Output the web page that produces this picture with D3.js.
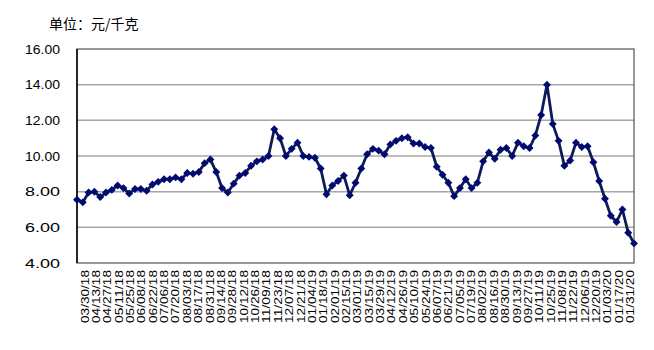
<!DOCTYPE html>
<html>
<head>
<meta charset="utf-8">
<script src="https://cdn.jsdelivr.net/npm/d3@7"></script>
<style>
  body { margin: 0; background: white; }
</style>
</head>
<body>
<div id="my_chart"></div>
<script>

    // price per week
    var prices = [
      7.55, 7.4, 7.95, 8.0, 7.7, 7.95, 8.1, 8.35, 8.2, 7.9,
      8.15, 8.15, 8.05, 8.4, 8.55, 8.7, 8.7, 8.8, 8.7, 9.05,
      9.0, 9.1, 9.6, 9.8, 9.1, 8.2, 7.95, 8.45, 8.9, 9.05,
      9.45, 9.7, 9.8, 10.0, 11.5, 11.0, 10.0, 10.4, 10.75, 10.0,
      9.95, 9.9, 9.3, 7.85, 8.35, 8.6, 8.9, 7.8, 8.5, 9.3,
      10.1, 10.4, 10.3, 10.1, 10.65, 10.85, 11.0, 11.05, 10.7, 10.7,
      10.5, 10.45, 9.4, 8.95, 8.5, 7.75, 8.2, 8.7, 8.2, 8.5,
      9.7, 10.2, 9.85, 10.35, 10.45, 10.0, 10.75, 10.55, 10.45, 11.15,
      12.3, 14.0, 11.8, 10.85, 9.45, 9.75, 10.75, 10.5, 10.55, 9.65,
      8.6, 7.6, 6.65, 6.3, 7.0, 5.7, 5.1
    ];

    // every second week gets a label
    var dateLabels = [
      "03/30/18", "04/13/18", "04/27/18", "05/11/18", "05/25/18", "06/08/18", "06/22/18",
      "07/06/18", "07/20/18", "08/03/18", "08/17/18", "08/31/18", "09/14/18", "09/28/18",
      "10/12/18", "10/26/18", "11/09/18", "11/23/18", "12/07/18", "12/21/18", "01/04/19",
      "01/18/19", "02/01/19", "02/15/19", "03/01/19", "03/15/19", "03/29/19", "04/12/19",
      "04/26/19", "05/10/19", "05/24/19", "06/07/19", "06/21/19", "07/05/19", "07/19/19",
      "08/02/19", "08/16/19", "08/30/19", "09/13/19", "09/27/19", "10/11/19", "10/25/19",
      "11/08/19", "11/22/19", "12/06/19", "12/20/19", "01/03/20", "01/17/20", "01/31/20"
    ];

    var yTicks = [4, 6, 8, 10, 12, 14, 16];
    var unitText = "单位：元/千克";

    //Color Palette
    var lineColor = "#0c1c58";
    var markerColor = "#000a70";
    var gridColor = "#a6a6a6";

    const margin = { top: 49, right: 20, bottom: 87, left: 77 },
      width = 654 - margin.left - margin.right,
      height = 350 - margin.top - margin.bottom;

    const svg = d3.select("#my_chart")
      .append("svg")
      .attr("width", 654)
      .attr("height", 350);

    const g = svg.append("g")
      .attr("transform", `translate(${margin.left},${margin.top})`);

    // X scale on week index
    const x = d3.scaleLinear()
      .domain([0, prices.length - 1])
      .range([0, width]);

    // label scale, one band per label
    const xLab = d3.scaleBand()
      .domain(dateLabels)
      .range([0, width]);

    // Y scale
    const y = d3.scaleLinear()
      .domain([4, 16])
      .range([height, 0]);

    // grid lines
    g.selectAll(".grid")
      .data(yTicks.slice(1, -1))
      .enter()
      .append("line")
      .attr("x1", 0)
      .attr("x2", width)
      .attr("y1", d => y(d))
      .attr("y2", d => y(d))
      .attr("stroke", gridColor)
      .attr("stroke-width", 1.5);

    // plot frame
    g.append("rect")
      .attr("x", 0)
      .attr("y", 0)
      .attr("width", width)
      .attr("height", height)
      .attr("fill", "none")
      .attr("stroke", "#555")
      .attr("stroke-width", 1.2);
    g.append("line")
      .attr("x1", 0).attr("x2", 0)
      .attr("y1", 0).attr("y2", height)
      .attr("stroke", "black")
      .attr("stroke-width", 1.5);

    // y axis labels
    g.append("g")
      .call(d3.axisLeft(y).tickValues(yTicks).tickFormat(d3.format(".2f")).tickSize(0).tickPadding(17))
      .call(a => a.select(".domain").remove())
      .selectAll("text")
      .style("font-family", "Liberation Sans, Arial, sans-serif")
      .style("font-size", "13px")
      .attr("fill", "black")
      .attr("textLength", 35)
      .attr("lengthAdjust", "spacingAndGlyphs");

    // x axis labels, rotated
    g.selectAll(".xlab")
      .data(dateLabels)
      .enter()
      .append("text")
      .attr("transform", d => `translate(${xLab(d) + xLab.bandwidth() / 2 + 2},${height + 7}) rotate(-90)`)
      .attr("dy", "0.35em")
      .attr("text-anchor", "end")
      .style("font-family", "Liberation Sans, Arial, sans-serif")
      .style("font-size", "11px")
      .attr("textLength", 53)
      .attr("lengthAdjust", "spacingAndGlyphs")
      .text(d => d);

    // the price line
    const line = d3.line()
      .x((d, i) => x(i))
      .y(d => y(d));

    g.append("path")
      .datum(prices)
      .attr("d", line)
      .attr("fill", "none")
      .attr("stroke", lineColor)
      .attr("stroke-width", 2.8)
      .attr("stroke-linejoin", "round");

    // diamond markers
    const diamond = d3.symbol().type(d3.symbolDiamond2).size(40);
    g.selectAll(".dot")
      .data(prices)
      .enter()
      .append("path")
      .attr("d", diamond)
      .attr("transform", (d, i) => `translate(${x(i)},${y(d)})`)
      .attr("fill", markerColor);

    // unit title
    svg.append("text")
      .attr("x", 49)
      .attr("y", 29)
      .style("font-family", "Noto Sans CJK SC, sans-serif")
      .style("font-size", "14px")
      .attr("fill", "black")
      .text(unitText);

</script>
</body>
</html>
